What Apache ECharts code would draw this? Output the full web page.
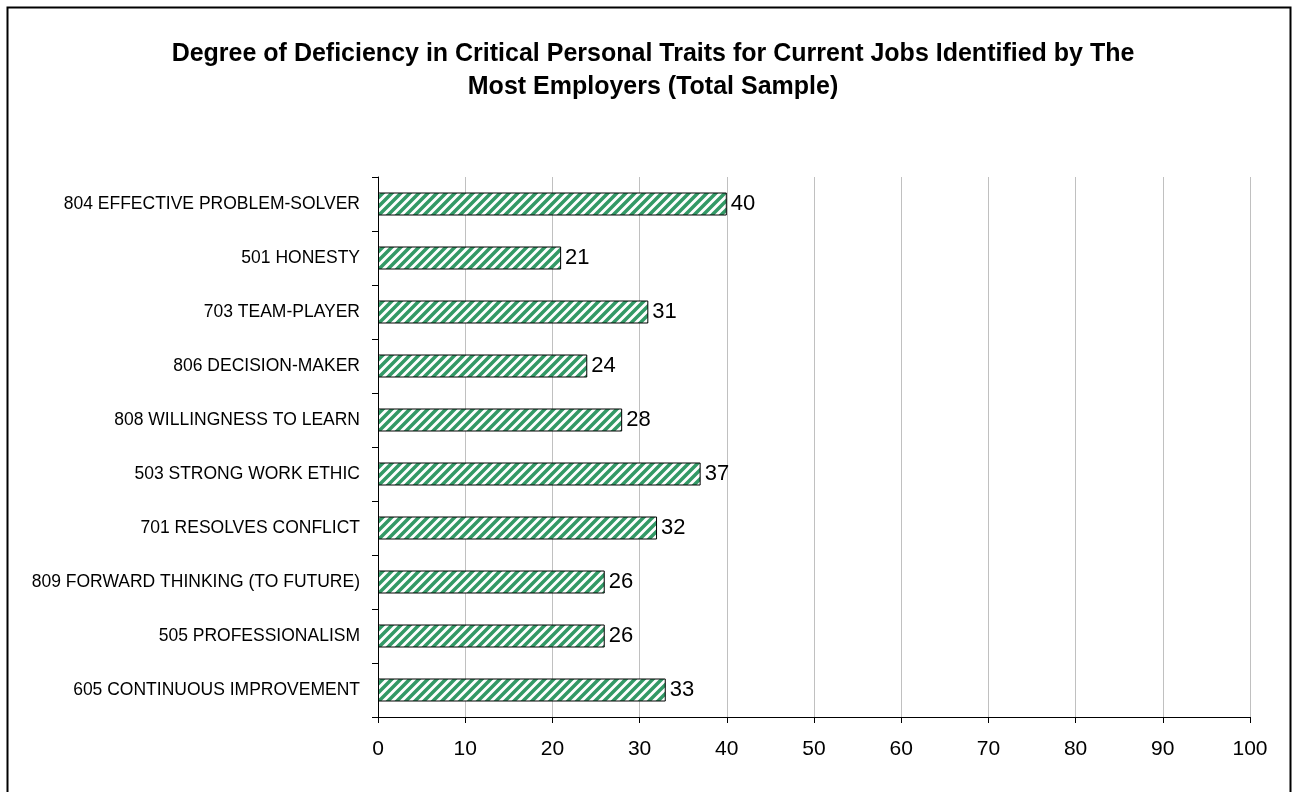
<!DOCTYPE html>
<html>
<head>
<meta charset="utf-8">
<style>
  html, body { margin: 0; padding: 0; background: #ffffff; }
  #chart { width: 1298px; height: 792px; }
</style>
<script src="https://cdn.jsdelivr.net/npm/echarts@6/dist/echarts.min.js"></script>
</head>
<body>
<div id="chart"></div>
<script>
// Personal traits, listed top to bottom
const traits = [
  '804 EFFECTIVE PROBLEM-SOLVER',
  '501 HONESTY',
  '703 TEAM-PLAYER',
  '806 DECISION-MAKER',
  '808 WILLINGNESS TO LEARN',
  '503 STRONG WORK ETHIC',
  '701 RESOLVES CONFLICT',
  '809 FORWARD THINKING (TO FUTURE)',
  '505 PROFESSIONALISM',
  '605 CONTINUOUS IMPROVEMENT'
];
// Degree of deficiency for each trait
const deficiency = [40, 21, 31, 24, 28, 37, 32, 26, 26, 33];
// Value axis ticks
const xTicks = [0, 10, 20, 30, 40, 50, 60, 70, 80, 90, 100];

const titleText = 'Degree of Deficiency in Critical Personal Traits for Current Jobs Identified by The\nMost Employers (Total Sample)';

// Diagonal green hatching used to fill the bars
function makeHatch() {
  const s = 9;
  const c = document.createElement('canvas');
  c.width = s; c.height = s;
  const g = c.getContext('2d');
  g.fillStyle = '#ffffff';
  g.fillRect(0, 0, s, s);
  g.strokeStyle = '#339966';
  g.lineWidth = 3.5;
  g.lineCap = 'square';
  for (const o of [-s, 0, s]) {
    g.beginPath();
    g.moveTo(o, s);
    g.lineTo(o + s, 0);
    g.stroke();
  }
  return c;
}

const chart = echarts.init(document.getElementById('chart'), null, { renderer: 'canvas' });
const fontFamily = '"Liberation Sans", Arial, sans-serif';

chart.setOption({
  animation: false,
  backgroundColor: '#ffffff',
  title: {
    text: titleText,
    left: 648,
    top: 33,
    textAlign: 'center',
    textStyle: {
      fontFamily: fontFamily,
      fontSize: 25,
      fontWeight: 'bold',
      color: '#000000',
      lineHeight: 33
    }
  },
  graphic: [{
    type: 'rect',
    shape: { x: 7.5, y: 7.5, width: 1283, height: 800 },
    style: { fill: 'none', stroke: '#000000', lineWidth: 2 },
    silent: true,
    z: 10
  }],
  grid: { left: 378, right: 48, top: 177, bottom: 75, containLabel: false },
  xAxis: {
    type: 'value',
    min: xTicks[0],
    max: xTicks[xTicks.length - 1],
    interval: 10,
    axisLine: { show: true, lineStyle: { color: '#000000', width: 1 } },
    axisTick: { show: true, length: 6, lineStyle: { color: '#000000' } },
    axisLabel: {
      margin: 22,
      fontFamily: fontFamily,
      fontSize: 21,
      color: '#000000'
    },
    splitLine: { show: true, lineStyle: { color: '#c0c0c0', width: 1 } }
  },
  yAxis: {
    type: 'category',
    data: traits,
    inverse: true,
    axisLine: { show: true, lineStyle: { color: '#000000', width: 1 } },
    axisTick: { show: true, length: 6, lineStyle: { color: '#000000' } },
    axisLabel: {
      margin: 18,
      fontFamily: fontFamily,
      fontSize: 17.5,
      color: '#000000'
    },
    splitLine: { show: false }
  },
  series: [{
    type: 'bar',
    data: deficiency,
    barWidth: 23,
    itemStyle: {
      color: { image: makeHatch(), repeat: 'repeat' },
      borderColor: '#000000',
      borderWidth: 1
    },
    label: {
      show: true,
      position: 'right',
      distance: 4,
      fontFamily: fontFamily,
      fontSize: 22,
      color: '#000000'
    }
  }]
});
</script>
